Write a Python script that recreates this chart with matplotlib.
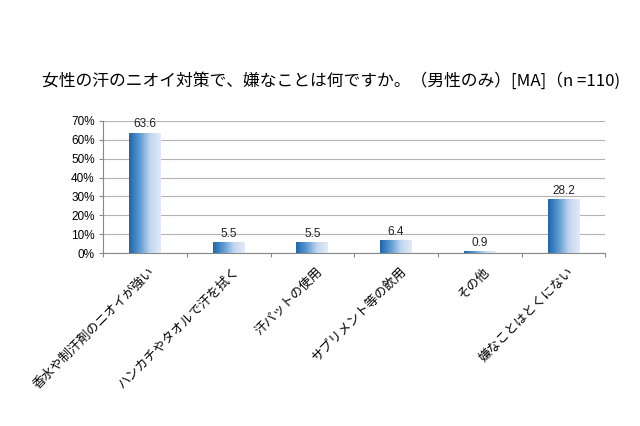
import numpy as np
import matplotlib.pyplot as plt
from matplotlib.colors import LinearSegmentedColormap

plt.rcParams['font.family'] = ['Noto Sans CJK JP', 'DejaVu Sans']

categories = ['香水や制汗剤のニオイが強い', 'ハンカチやタオルで汗を拭く', '汗パットの使用',
              'サプリメント等の飲用', 'その他', '嫌なことはとくにない']
values = [63.6, 5.5, 5.5, 6.4, 0.9, 28.2]
yticks = [0, 10, 20, 30, 40, 50, 60, 70]
title = '女性の汗のニオイ対策で、嫌なことは何ですか。（男性のみ）[MA]（n =110)'

cmap = LinearSegmentedColormap.from_list('bar', ['#1a68b0', '#5f9ad0', '#c4d6ee', '#e2eaf6'])

fig = plt.figure(figsize=(6.4, 4.26), dpi=100)
ax = fig.add_axes([0.161, 0.406, 0.785, 0.31])
x = np.arange(len(categories))
ax.set_xlim(-0.5, len(categories) - 0.5)
ax.set_ylim(0, 70)

bw = 0.38
grad = np.linspace(0, 1, 64).reshape(1, -1)
for xi, v in zip(x, values):
    ax.imshow(grad, cmap=cmap, aspect='auto', extent=[xi - bw / 2, xi + bw / 2, 0, v],
              zorder=3, interpolation='bicubic')
    ax.text(xi, v + 1.5, f'{v}', ha='center', va='bottom', fontsize=8.5,
            family=['Liberation Sans', 'DejaVu Sans'], color='#222222')

ax.set_yticks(yticks)
ax.set_yticklabels([f'{t}%' for t in yticks], family=['Liberation Sans', 'DejaVu Sans'], fontsize=8.5)
ax.yaxis.grid(True, color='#b4b4b4', linewidth=0.8)
ax.set_axisbelow(True)
ax.set_xticks(np.arange(len(categories) + 1) - 0.5)
ax.set_xticklabels([])
ax.tick_params(axis='x', length=3, color='#888888', direction='out')
ax.tick_params(axis='y', length=3, color='#888888', pad=3)
for xi, c in zip(x, categories):
    ax.text(xi + 0.04, -6.4, c, rotation=45, ha='right', va='top', fontsize=9.2,
            rotation_mode='anchor', clip_on=False)
for s in ['top', 'right']:
    ax.spines[s].set_visible(False)
ax.spines['left'].set_color('#888888')
ax.spines['bottom'].set_color('#888888')

fig.text(0.518, 0.81, title, ha='center', va='center', fontsize=12.1)
fig.savefig('out.png', dpi=100)
